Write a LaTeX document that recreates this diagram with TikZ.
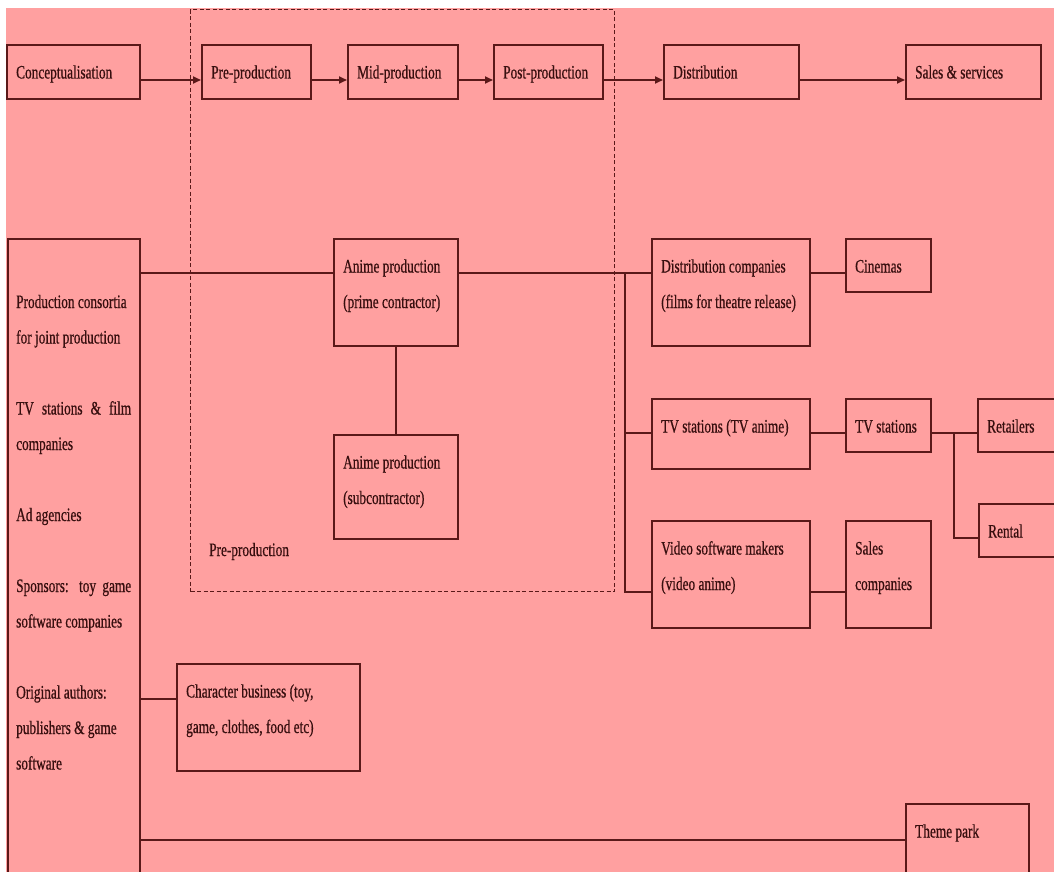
\documentclass[tikz,border=0pt]{standalone}
\usepackage{fontspec}
\setmainfont{Liberation Serif}[FakeStretch=0.7,FakeBold=0.6]
\usetikzlibrary{arrows.meta}
\definecolor{bgpink}{RGB}{255,160,160}
\definecolor{inkline}{RGB}{90,25,25}
\definecolor{inktext}{RGB}{55,15,15}
\newcommand\mkbox[6]{%
  \node[bx, minimum width=#4pt, minimum height=#5pt] (#1) at (#2,#3) {};
  \node[txt] (#1t) at ([shift={(10,34.5)}]#1.north west) {\parbox[t]{260pt}{\raggedright #6}};}
\begin{document}
\begin{tikzpicture}[x=1pt,y=-1pt,
  bx/.style={draw=inkline, line width=2pt, fill=bgpink, inner sep=0pt, anchor=north west},
  txt/.style={anchor=base west, inner sep=0pt, text=inktext, font=\fontsize{19}{35.5}\selectfont},
  conn/.style={draw=inkline, line width=1.8pt},
  arr/.style={conn, -{Triangle[length=8pt,width=7pt]}},
  dashbox/.style={draw=inkline, line width=1.2pt, dash pattern=on 4pt off 2.5pt, inner sep=0pt, anchor=north west}]
\useasboundingbox (0,0) rectangle (1054,872);
\fill[white] (0,0) rectangle (1054,872);
\fill[bgpink] (6,8) rectangle (1054,872);

% dashed production phase frame
\node[dashbox, minimum width=424pt, minimum height=582pt] (phase) at (190,9) {};
\node[txt] (prelabel) at (209,556) {Pre-production};

% top row
\mkbox{concept}{6}{44}{133}{54}{Conceptualisation}
\mkbox{pre}{201}{44}{109}{54}{Pre-production}
\mkbox{mid}{347}{44}{110}{54}{Mid-production}
\mkbox{post}{493}{44}{109}{54}{Post-production}
\mkbox{dist}{663}{44}{135}{54}{Distribution}
\mkbox{sales}{905}{44}{135}{54}{Sales \& services}

\draw[arr] ([yshift=-8pt]concept.east) -- ([yshift=-8pt]pre.west);
\draw[arr] ([yshift=-8pt]pre.east) -- ([yshift=-8pt]mid.west);
\draw[arr] ([yshift=-8pt]mid.east) -- ([yshift=-8pt]post.west);
\draw[arr] ([yshift=-8pt]post.east) -- ([yshift=-8pt]dist.west);
\draw[arr] ([yshift=-8pt]dist.east) -- ([yshift=-8pt]sales.west);

% junction points
\coordinate (jb) at (625,273);
\coordinate (rb) at (954,433);
\coordinate (chin) at (176,699);
\coordinate (thin) at (905,840);

% left box
\node[bx, minimum width=132pt, minimum height=700pt] (left) at (7,238) {};
\node[txt] (leftt) at ([shift={(9,70)}]left.north west) {\parbox[t]{130pt}{\raggedright
Production consortia\\
for joint production\\
~\\
\makebox[115pt][s]{TV stations \& film}\\
companies\\
~\\
Ad agencies\\
~\\
\makebox[115pt][s]{Sponsors: toy game}\\
software companies\\
~\\
Original authors:\\
publishers \& game\\
software}};

\mkbox{prime}{333}{238}{124}{107}{Anime production\\(prime contractor)}
\mkbox{sub}{333}{434}{124}{104}{Anime production\\(subcontractor)}
\mkbox{distco}{651}{238}{158}{107}{Distribution companies\\(films for theatre release)}
\mkbox{cinemas}{845}{238}{85}{53}{Cinemas}
\mkbox{tvanime}{651}{398}{158}{70}{TV stations (TV anime)}
\mkbox{tvst}{845}{398}{85}{53}{TV stations}
\mkbox{retail}{977}{398}{120}{53}{Retailers}
\mkbox{rental}{978}{503}{120}{53}{Rental}
\mkbox{video}{651}{520}{158}{107}{Video software makers\\(video anime)}
\mkbox{salesco}{845}{520}{85}{107}{Sales\\companies}
\mkbox{charb}{176}{663}{183}{107}{Character business (toy,\\game, clothes, food etc)}
\mkbox{theme}{905}{803}{123}{100}{Theme park}

\coordinate (tvin) at ([yshift=-35pt]tvanime.north west);
\draw[conn] ([yshift=-35pt]left.north east) -- ([yshift=-35pt]prime.north west);
\draw[conn] ([yshift=-35pt]prime.north east) -- ([yshift=-35pt]distco.north west);
\draw[conn] (prime.south) -- (sub.north);
\draw[conn] (jb) |- ([yshift=-72pt]video.north west);
\draw[conn] (tvin) -- (jb |- tvin);
\draw[conn] ([yshift=-35pt]distco.north east) -- ([yshift=-35pt]cinemas.north west);
\draw[conn] ([yshift=-35pt]tvanime.north east) -- ([yshift=-35pt]tvst.north west);
\draw[conn] ([yshift=-35pt]tvst.north east) -- ([yshift=-35pt]retail.north west);
\draw[conn] (rb) |- ([yshift=-35pt]rental.north west);
\draw[conn] ([yshift=-72pt]video.north east) -- ([yshift=-72pt]salesco.north west);
\draw[conn] (chin) -- (left.east |- chin);
\draw[conn] (thin) -- (left.east |- thin);
\end{tikzpicture}
\end{document}
